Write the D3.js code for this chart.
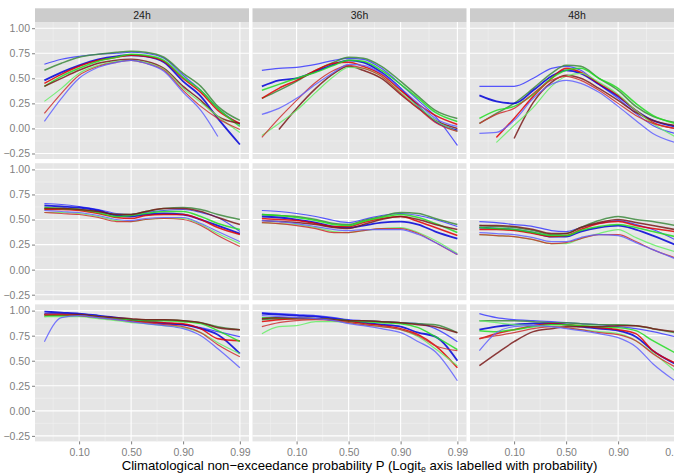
<!DOCTYPE html>
<html>
<head>
<meta charset="utf-8">
<script src="https://cdn.jsdelivr.net/npm/d3@7"></script>
<style>
  body { margin: 0; background: #fff; }
  text { font-family: "Liberation Sans", Arial, sans-serif; }
</style>
</head>
<body>
<svg width="674" height="476"></svg>
<script>
// probability levels where each curve was evaluated
const probs = [0.025, 0.05, 0.1, 0.2, 0.35, 0.5, 0.65, 0.8, 0.9, 0.95, 0.975, 0.99];
const leadTimes = ["24h", "36h", "48h"];
const xTickProbs = [0.10, 0.50, 0.90, 0.99];
const yTicks = [-0.25, 0, 0.25, 0.5, 0.75, 1];

// one array per panel, one row per curve (null = no value)
const top24 = [
  [0.64, 0.69, 0.72, 0.74, 0.75, 0.76, 0.75, 0.70, 0.53, 0.38, 0.20, 0.04],
  [0.58, 0.65, 0.71, 0.74, 0.76, 0.77, 0.76, 0.71, 0.55, 0.42, 0.22, 0.08],
  [0.48, 0.56, 0.63, 0.69, 0.72, 0.73, 0.72, 0.66, 0.47, 0.32, 0.10, -0.16],
  [0.45, 0.54, 0.62, 0.68, 0.71, 0.73, 0.72, 0.67, 0.50, 0.36, 0.18, 0.05],
  [0.42, 0.52, 0.60, 0.67, 0.71, 0.74, 0.73, 0.68, 0.51, 0.38, 0.20, 0.02],
  [0.42, 0.50, 0.58, 0.65, 0.68, 0.69, 0.67, 0.60, 0.42, 0.28, 0.12, 0.05],
  [0.27, 0.40, 0.55, 0.63, 0.67, 0.68, 0.66, 0.59, 0.40, 0.26, 0.12, -0.04],
  [0.15, 0.35, 0.53, 0.62, 0.66, 0.68, 0.65, 0.58, 0.38, 0.22, 0.10, -0.01],
  [0.07, 0.30, 0.50, 0.61, 0.66, 0.68, 0.65, 0.57, 0.36, 0.18, -0.08, null]
];
const top36 = [
  [0.58, 0.60, 0.61, 0.64, 0.68, 0.70, 0.69, 0.60, 0.44, 0.28, 0.12, -0.17],
  [0.30, 0.38, 0.47, 0.58, 0.66, 0.71, 0.70, 0.62, 0.47, 0.32, 0.18, 0.10],
  [0.42, 0.48, 0.50, 0.57, 0.64, 0.68, 0.66, 0.56, 0.40, 0.22, 0.07, -0.02],
  [0.30, 0.40, 0.48, 0.58, 0.65, 0.66, 0.62, 0.54, 0.38, 0.24, 0.13, 0.04],
  [0.38, 0.44, 0.50, 0.56, 0.63, 0.68, 0.67, 0.58, 0.44, 0.30, 0.16, 0.07],
  [null, -0.01, 0.20, 0.40, 0.55, 0.62, 0.58, 0.50, 0.34, 0.20, 0.08, 0.00],
  [-0.07, 0.05, 0.18, 0.36, 0.52, 0.61, 0.60, 0.52, 0.36, 0.22, 0.08, -0.03],
  [-0.09, 0.10, 0.28, 0.46, 0.58, 0.63, 0.60, 0.52, 0.35, 0.20, 0.06, -0.03],
  [0.14, 0.20, 0.30, 0.44, 0.56, 0.64, 0.63, 0.55, 0.40, 0.25, 0.10, 0.02]
];
const top48 = [
  [0.42, 0.42, 0.42, 0.50, 0.60, 0.62, 0.58, 0.44, 0.30, 0.15, 0.03, -0.05],
  [0.05, 0.15, 0.25, 0.40, 0.55, 0.63, 0.62, 0.50, 0.38, 0.22, 0.12, 0.06],
  [0.33, 0.27, 0.25, 0.38, 0.52, 0.58, 0.55, 0.44, 0.32, 0.18, 0.08, 0.02],
  [null, -0.09, 0.10, 0.32, 0.50, 0.60, 0.56, 0.45, 0.33, 0.18, 0.06, 0.00],
  [0.10, 0.18, 0.22, 0.34, 0.50, 0.58, 0.60, 0.50, 0.40, 0.25, 0.13, 0.05],
  [null, null, -0.10, 0.26, 0.46, 0.53, 0.50, 0.40, 0.28, 0.16, 0.08, 0.03],
  [null, -0.14, 0.03, 0.21, 0.42, 0.52, 0.55, 0.46, 0.34, 0.18, 0.05, -0.08],
  [0.05, 0.14, 0.20, 0.35, 0.48, 0.52, 0.48, 0.38, 0.25, 0.13, 0.05, 0.00],
  [-0.05, -0.04, 0.08, 0.30, 0.44, 0.48, 0.45, 0.36, 0.22, 0.08, -0.05, -0.14]
];
const mid24 = [
  [0.66, 0.65, 0.63, 0.60, 0.56, 0.55, 0.57, 0.59, 0.60, 0.57, 0.52, 0.38],
  [0.61, 0.61, 0.60, 0.58, 0.55, 0.55, 0.58, 0.61, 0.62, 0.60, 0.55, 0.50],
  [0.64, 0.63, 0.62, 0.59, 0.54, 0.53, 0.55, 0.56, 0.55, 0.50, 0.44, 0.36],
  [0.60, 0.60, 0.59, 0.56, 0.52, 0.51, 0.54, 0.55, 0.55, 0.50, 0.42, 0.35],
  [0.62, 0.61, 0.60, 0.57, 0.53, 0.54, 0.56, 0.58, 0.58, 0.53, 0.46, 0.40],
  [0.61, 0.61, 0.60, 0.58, 0.55, 0.55, 0.58, 0.61, 0.61, 0.58, 0.52, 0.45],
  [0.57, 0.57, 0.56, 0.53, 0.49, 0.48, 0.50, 0.51, 0.51, 0.45, 0.36, 0.26],
  [0.57, 0.56, 0.55, 0.52, 0.48, 0.48, 0.50, 0.51, 0.50, 0.44, 0.34, 0.23],
  [0.59, 0.58, 0.57, 0.54, 0.50, 0.49, 0.51, 0.52, 0.52, 0.46, 0.38, 0.28]
];
const mid36 = [
  [0.59, 0.58, 0.56, 0.53, 0.49, 0.47, 0.50, 0.54, 0.56, 0.54, 0.50, 0.43],
  [0.55, 0.54, 0.53, 0.50, 0.46, 0.45, 0.49, 0.53, 0.57, 0.56, 0.51, 0.45],
  [0.53, 0.52, 0.50, 0.47, 0.43, 0.42, 0.44, 0.47, 0.48, 0.45, 0.38, 0.31],
  [0.51, 0.50, 0.49, 0.46, 0.43, 0.43, 0.47, 0.51, 0.53, 0.48, 0.42, 0.34],
  [0.55, 0.54, 0.52, 0.49, 0.45, 0.44, 0.48, 0.52, 0.55, 0.52, 0.46, 0.37],
  [0.49, 0.48, 0.47, 0.45, 0.42, 0.41, 0.45, 0.50, 0.53, 0.50, 0.45, 0.40],
  [0.47, 0.46, 0.45, 0.42, 0.38, 0.37, 0.39, 0.41, 0.42, 0.37, 0.29, 0.16],
  [0.47, 0.46, 0.44, 0.41, 0.37, 0.37, 0.39, 0.41, 0.41, 0.36, 0.27, 0.15],
  [0.49, 0.48, 0.46, 0.43, 0.40, 0.39, 0.40, 0.40, 0.40, 0.35, 0.27, 0.15]
];
const mid48 = [
  [0.48, 0.47, 0.45, 0.43, 0.39, 0.38, 0.42, 0.46, 0.49, 0.45, 0.40, 0.30],
  [0.44, 0.43, 0.42, 0.39, 0.35, 0.36, 0.42, 0.49, 0.53, 0.50, 0.48, 0.44],
  [0.42, 0.41, 0.40, 0.37, 0.33, 0.33, 0.38, 0.42, 0.44, 0.40, 0.34, 0.25],
  [0.40, 0.40, 0.39, 0.36, 0.33, 0.34, 0.40, 0.46, 0.48, 0.44, 0.41, 0.38],
  [0.42, 0.41, 0.40, 0.37, 0.34, 0.34, 0.39, 0.43, 0.45, 0.42, 0.38, 0.33],
  [0.44, 0.44, 0.43, 0.40, 0.36, 0.36, 0.42, 0.47, 0.50, 0.47, 0.44, 0.40],
  [0.35, 0.34, 0.33, 0.30, 0.26, 0.26, 0.31, 0.36, 0.40, 0.32, 0.25, 0.18],
  [0.35, 0.34, 0.33, 0.30, 0.26, 0.27, 0.31, 0.35, 0.35, 0.28, 0.20, 0.12],
  [0.37, 0.36, 0.35, 0.32, 0.28, 0.28, 0.32, 0.35, 0.34, 0.27, 0.20, 0.11]
];
const bot24 = [
  [0.97, 0.97, 0.96, 0.94, 0.92, 0.91, 0.90, 0.88, 0.86, 0.83, 0.79, 0.74],
  [0.95, 0.95, 0.95, 0.94, 0.92, 0.91, 0.91, 0.91, 0.90, 0.88, 0.84, 0.81],
  [0.99, 0.98, 0.97, 0.95, 0.93, 0.91, 0.89, 0.87, 0.86, 0.82, 0.76, 0.57],
  [0.96, 0.96, 0.95, 0.94, 0.92, 0.90, 0.89, 0.88, 0.87, 0.82, 0.72, 0.70],
  [0.94, 0.95, 0.95, 0.94, 0.92, 0.91, 0.90, 0.90, 0.89, 0.87, 0.80, 0.69],
  [0.96, 0.96, 0.96, 0.94, 0.93, 0.92, 0.91, 0.91, 0.90, 0.88, 0.83, 0.81],
  [0.94, 0.94, 0.94, 0.92, 0.90, 0.88, 0.87, 0.85, 0.83, 0.78, 0.68, 0.57],
  [0.96, 0.96, 0.95, 0.93, 0.91, 0.89, 0.88, 0.86, 0.84, 0.78, 0.66, 0.54],
  [0.69, 0.93, 0.95, 0.93, 0.91, 0.89, 0.87, 0.85, 0.82, 0.75, 0.62, 0.43]
];
const bot36 = [
  [0.98, 0.97, 0.96, 0.95, 0.93, 0.91, 0.90, 0.89, 0.88, 0.87, 0.82, 0.69],
  [0.91, 0.92, 0.92, 0.92, 0.91, 0.90, 0.90, 0.89, 0.88, 0.87, 0.86, 0.78],
  [0.97, 0.96, 0.95, 0.94, 0.92, 0.90, 0.88, 0.86, 0.84, 0.78, 0.74, 0.50],
  [0.89, 0.91, 0.92, 0.92, 0.91, 0.89, 0.87, 0.85, 0.82, 0.76, 0.65, 0.43],
  [0.93, 0.93, 0.93, 0.92, 0.91, 0.90, 0.89, 0.88, 0.87, 0.83, 0.74, 0.61],
  [0.92, 0.93, 0.93, 0.92, 0.91, 0.90, 0.90, 0.89, 0.88, 0.86, 0.84, 0.78],
  [0.77, 0.84, 0.85, 0.89, 0.89, 0.88, 0.86, 0.84, 0.81, 0.74, 0.62, 0.45],
  [0.84, 0.88, 0.90, 0.91, 0.90, 0.88, 0.86, 0.84, 0.81, 0.75, 0.65, 0.60],
  [0.95, 0.94, 0.93, 0.92, 0.90, 0.87, 0.85, 0.82, 0.78, 0.69, 0.59, 0.30]
];
const bot48 = [
  [0.97, 0.93, 0.91, 0.90, 0.89, 0.88, 0.87, 0.86, 0.84, 0.82, 0.79, 0.74],
  [0.90, 0.90, 0.90, 0.89, 0.88, 0.88, 0.87, 0.86, 0.86, 0.85, 0.82, 0.78],
  [0.81, 0.84, 0.86, 0.87, 0.87, 0.86, 0.84, 0.82, 0.80, 0.74, 0.60, 0.47],
  [0.72, 0.77, 0.81, 0.85, 0.87, 0.86, 0.85, 0.83, 0.81, 0.77, 0.60, 0.48],
  [0.80, 0.79, 0.81, 0.84, 0.86, 0.86, 0.85, 0.84, 0.83, 0.80, 0.70, 0.58],
  [0.45, 0.57, 0.69, 0.79, 0.82, 0.84, 0.84, 0.84, 0.85, 0.85, 0.82, 0.79],
  [0.90, 0.88, 0.86, 0.85, 0.84, 0.83, 0.81, 0.79, 0.77, 0.70, 0.58, 0.40],
  [0.72, 0.75, 0.78, 0.82, 0.84, 0.83, 0.81, 0.78, 0.76, 0.70, 0.57, 0.44],
  [0.60, 0.78, 0.84, 0.85, 0.84, 0.82, 0.80, 0.77, 0.73, 0.64, 0.47, 0.30]
];

const grid = [
  [top24, top36, top48],
  [mid24, mid36, mid48],
  [bot24, bot36, bot48]
];

// curve styling (same order as the rows in each panel array)
const lineColors = ["#3b3bff", "#3d8a3d", "#0000d8", "#e00000", "#22dd22", "#7a1a1a", "#66ee66", "#cc3030", "#6060ff"];
const lineWidths = [1.2, 1.5, 1.8, 1.5, 1.5, 1.5, 1.2, 1.2, 1.2];

const svg = d3.select("svg");
svg.append("rect").attr("width", 674).attr("height", 476).attr("fill", "#fff");

const panelLeft = [35, 252.5, 470];
const panelTop = [22, 163.2, 304.4];
const panelW = 214, panelH = 137;
const stripH = 13.7;

const logit = p => Math.log(p / (1 - p));
const invLogit = v => 1 / (1 + Math.exp(-v));

const x = d3.scaleLinear().domain([-4.06, 4.98]).range([0, panelW]);
const y = d3.scaleLinear().domain([-0.305, 1.062]).range([panelH, 0]);

const xMajor = xTickProbs.map(logit);
const xMinor = [];
for (let i = 0; i < xMajor.length - 1; i++) xMinor.push((xMajor[i] + xMajor[i + 1]) / 2);
xMinor.push(xMajor[0] - (xMajor[1] - xMajor[0]) / 2);
const yMinor = [];
for (let i = 0; i < yTicks.length - 1; i++) yMinor.push((yTicks[i] + yTicks[i + 1]) / 2);

const line = d3.line()
  .defined(d => d.v !== null)
  .curve(d3.curveMonotoneX)
  .x(d => x(logit(d.p)))
  .y(d => y(d.v));

grid.forEach((row, r) => {
  row.forEach((curves, c) => {
    const g = svg.append("g")
      .attr("transform", `translate(${panelLeft[c]},${panelTop[r]})`);

    g.append("rect")
      .attr("width", panelW).attr("height", panelH)
      .attr("fill", "#e5e5e5");

    // minor grid
    g.selectAll(".xminor").data(xMinor.filter(v => v > x.domain()[0] && v < x.domain()[1]))
      .enter().append("line")
      .attr("x1", d => x(d)).attr("x2", d => x(d))
      .attr("y1", 0).attr("y2", panelH)
      .attr("stroke", "#f2f2f2").attr("stroke-width", 0.6);
    g.selectAll(".yminor").data(yMinor)
      .enter().append("line")
      .attr("y1", d => y(d)).attr("y2", d => y(d))
      .attr("x1", 0).attr("x2", panelW)
      .attr("stroke", "#f2f2f2").attr("stroke-width", 0.6);

    // major grid
    g.selectAll(".xmajor").data(xMajor)
      .enter().append("line")
      .attr("x1", d => x(d)).attr("x2", d => x(d))
      .attr("y1", 0).attr("y2", panelH)
      .attr("stroke", "#fff").attr("stroke-width", 1.1);
    g.selectAll(".ymajor").data(yTicks)
      .enter().append("line")
      .attr("y1", d => y(d)).attr("y2", d => y(d))
      .attr("x1", 0).attr("x2", panelW)
      .attr("stroke", "#fff").attr("stroke-width", 1.1);

    // curves
    curves.forEach((vals, k) => {
      const pts = vals.map((v, i) => ({ p: probs[i], v: v }));
      g.append("path")
        .datum(pts)
        .attr("d", line)
        .attr("fill", "none")
        .attr("stroke", lineColors[k])
        .attr("stroke-width", lineWidths[k])
        .attr("stroke-opacity", 0.85)
        .attr("stroke-linejoin", "round");
    });

    // strip on top row
    if (r === 0) {
      svg.append("rect")
        .attr("x", panelLeft[c]).attr("y", panelTop[0] - stripH)
        .attr("width", panelW).attr("height", stripH)
        .attr("fill", "#cccccc");
      svg.append("text")
        .attr("x", panelLeft[c] + panelW / 2).attr("y", panelTop[0] - stripH / 2)
        .attr("dy", "0.35em")
        .attr("text-anchor", "middle")
        .attr("font-size", 10.5).attr("fill", "#1a1a1a")
        .text(leadTimes[c]);
    }

    // y axis on the left column
    if (c === 0) {
      const ya = g.append("g").call(
        d3.axisLeft(y).tickValues(yTicks).tickSize(3).tickPadding(2)
          .tickFormat(d => d.toFixed(2).replace("-", "\u2212"))
      );
      ya.select(".domain").remove();
      ya.selectAll("line").attr("stroke", "#7f7f7f");
      ya.selectAll("text").attr("fill", "#7f7f7f").attr("font-size", 10.5)
        .attr("font-family", "Liberation Sans, Arial, sans-serif");
    }

    // x axis on the bottom row
    if (r === 2) {
      const xa = g.append("g").attr("transform", `translate(0,${panelH})`).call(
        d3.axisBottom(x).tickValues(xMajor).tickSize(3).tickPadding(4)
          .tickFormat(d => invLogit(d).toFixed(2))
      );
      xa.select(".domain").remove();
      xa.selectAll("line").attr("stroke", "#7f7f7f");
      xa.selectAll("text").attr("fill", "#7f7f7f").attr("font-size", 10.5)
        .attr("font-family", "Liberation Sans, Arial, sans-serif");
    }
  });
});

// axis title
const title = svg.append("text")
  .attr("x", (panelLeft[0] + panelLeft[2] + panelW) / 2)
  .attr("y", 469.5)
  .attr("text-anchor", "middle")
  .attr("font-size", 13.2)
  .attr("fill", "#000");
title.append("tspan").text("Climatological non\u2212exceedance probability P (Logit");
title.append("tspan").attr("font-size", 8.8).attr("dy", 2.6).text("e");
title.append("tspan").attr("dy", -2.6).text(" axis labelled with probability)");
</script>
</body>
</html>
